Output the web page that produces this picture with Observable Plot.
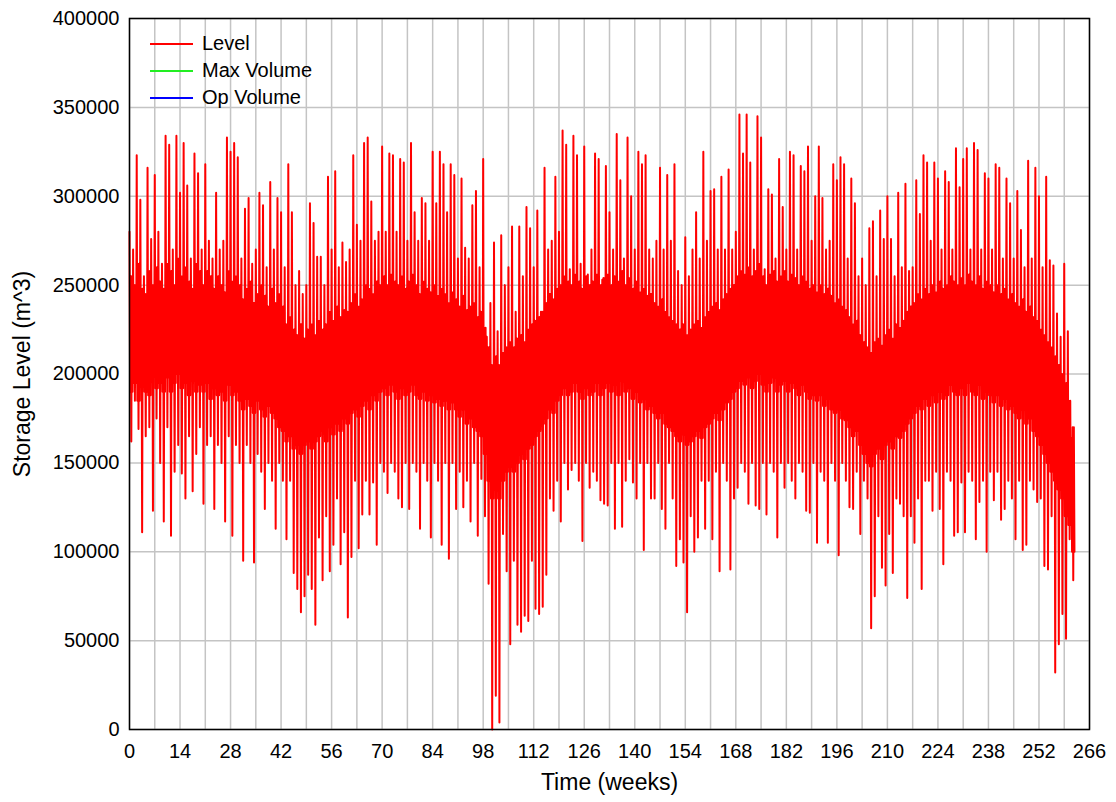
<!DOCTYPE html>
<html><head><meta charset="utf-8">
<script src="https://cdn.jsdelivr.net/npm/d3@7"></script>
<script src="https://cdn.jsdelivr.net/npm/@observablehq/plot@0.6"></script>
<style>
body{margin:0;background:#fff;font-family:"Liberation Sans",Arial,sans-serif;}
#wrap{position:relative;width:1116px;height:802px;}
#legend{position:absolute;left:150px;top:30px;font-size:20px;color:#000;}
.row{display:flex;align-items:center;height:27px;}
.sw{width:43px;height:2px;margin-right:9px;}
</style></head><body>
<div id="wrap"><div id="chart"></div><div id="legend"></div></div>
<script>
// Weekly upper spike values (thousand m^3), week 0..261
const peakLevel = [
280,270,323,298,255,316,276,312,280,262,
334,329,270,334,302,330,306,265,324,313,
270,318,275,265,302,270,275,333,325,330,
322,265,293,299,262,270,302,295,260,308,
270,299,291,260,318,291,250,258,245,250,
296,285,266,266,250,311,270,314,260,274,
263,270,323,284,275,330,333,297,275,280,
328,280,324,323,280,321,319,275,330,291,
275,299,296,275,325,296,325,318,291,318,
312,265,310,271,265,295,303,260,321,221,
240,274,224,278,250,260,283,235,283,255,
294,282,260,292,235,316,270,275,311,280,
337,329,259,334,323,262,328,256,270,324,
321,253,317,291,270,335,309,265,333,300,
270,325,318,323,270,265,275,316,270,312,
275,318,258,250,277,255,270,291,265,325,
275,303,304,270,311,270,315,270,280,346,
324,346,319,270,345,333,259,304,301,265,
321,294,270,325,323,270,317,314,328,275,
300,328,299,270,275,318,309,322,318,265,
310,296,255,265,250,282,286,255,292,276,
300,276,255,302,260,307,258,260,309,290,
323,319,275,319,310,270,314,308,270,327,
305,321,327,270,330,326,270,313,310,270,
318,316,265,310,296,265,303,281,260,320,
265,316,300,260,311,264,261,234,221,262,
224,164];
// Weekly lower spike values (thousand m^3), week 0..261
const troughLevel = [
162,185,169,111,165,170,123,175,150,117,
170,109,145,160,144,130,165,134,155,170,
127,160,165,124,160,150,117,165,109,160,
150,95,160,150,94,155,145,124,150,140,
113,150,140,107,140,88,79,66,75,87,
79,59,108,84,120,89,104,130,93,111,
63,97,140,102,121,140,121,139,104,150,
145,133,150,145,130,125,150,124,150,145,
113,150,140,108,150,140,104,150,96,150,
124,145,125,140,117,150,109,141,120,82,
0,19,4,110,89,48,95,59,55,64,
61,95,68,65,69,87,130,123,140,117,
150,135,146,150,140,106,150,136,145,140,
129,127,126,150,113,150,114,140,152,139,
130,150,101,150,130,130,150,124,113,150,
130,92,107,94,66,120,100,108,140,113,
140,107,145,89,150,140,90,130,136,150,
145,127,150,126,124,150,121,150,145,108,
150,136,150,140,130,150,145,123,122,150,
105,145,140,105,150,140,98,150,140,125,
124,145,110,140,130,57,75,120,91,81,
110,88,130,127,120,74,120,105,130,79,
140,140,123,145,124,93,145,140,109,111,
139,111,145,140,107,128,140,100,145,129,
145,118,124,140,130,107,140,101,104,140,
135,128,130,92,90,120,32,48,65,51,
107,84];
// Weekly top of the dense core band (thousand m^3), week 0..261
const coreHigh = [
255,250,262,248,245,258,250,260,252,248,
262,258,250,265,255,260,252,248,262,258,
250,258,255,248,255,250,246,258,252,255,
250,242,248,252,240,245,250,244,238,248,
240,245,238,228,232,225,222,228,220,225,
228,222,230,225,228,235,230,238,232,236,
235,240,245,238,242,250,248,245,252,250,
255,250,256,252,250,255,248,252,256,250,
245,252,248,246,250,244,248,245,240,246,
242,238,244,236,238,240,232,235,226,215,
205,210,205,212,215,218,215,220,222,218,
225,228,230,232,235,240,245,242,248,250,
255,252,250,256,252,248,255,250,252,256,
250,254,256,250,255,252,258,250,254,248,
252,246,248,244,245,240,238,242,235,232,
230,228,225,228,222,225,228,230,226,232,
235,238,240,236,242,245,248,250,255,258,
256,260,255,258,262,255,250,256,258,252,
255,258,252,256,254,250,255,252,248,250,
246,250,245,248,244,240,242,238,236,232,
228,230,222,218,215,212,218,220,216,222,
225,220,228,226,230,235,238,240,245,242,
248,245,250,246,252,248,250,255,252,250,
254,250,256,252,250,255,248,252,250,246,
250,245,248,242,245,240,238,242,235,238,
232,230,225,222,218,215,210,205,200,195,
185,170];
// Weekly bottom of the dense core band (thousand m^3), week 0..261
const coreLow = [
190,195,185,198,190,188,200,192,195,190,
198,190,195,200,192,195,188,196,190,194,
190,195,186,192,188,190,185,194,188,190,
185,180,186,182,178,185,180,176,182,178,
175,170,168,162,165,158,160,155,160,162,
158,162,165,168,162,170,166,172,168,175,
172,178,180,176,182,185,180,188,185,190,
192,188,194,190,186,192,188,190,194,188,
186,190,185,188,184,186,182,185,180,184,
180,176,180,172,175,170,168,165,155,140,
130,135,130,140,145,148,145,150,155,152,
158,160,165,168,172,175,180,178,185,188,
192,188,190,195,190,186,192,188,190,195,
188,192,195,190,194,188,196,190,192,186,
190,184,186,180,182,178,175,178,172,170,
168,165,162,166,160,162,165,168,164,170,
172,175,178,174,180,184,186,190,192,196,
194,198,192,196,200,194,190,195,198,190,
194,196,190,195,192,188,194,190,186,188,
185,188,182,186,180,178,180,175,174,170,
165,168,160,155,150,148,155,158,152,160,
162,158,165,164,168,172,175,178,182,180,
186,182,188,184,190,186,188,194,190,188,
192,188,195,190,188,194,186,190,188,184,
188,182,186,180,182,178,175,180,172,175,
168,165,160,155,150,145,140,135,130,120,
115,100];

const xTicks = [0,14,28,42,56,70,84,98,112,126,140,154,168,182,196,210,224,238,252,266];
const gridWeeks = [0,7,14,21,28,35,42,49,56,63,70,77,84,91,98,105,112,119,126,133,140,147,154,161,168,175,182,189,196,203,210,217,224,231,238,245,252,259,266];
const yTicks = [0,50000,100000,150000,200000,250000,300000,350000,400000];
const seriesNames = ["Level","Max Volume","Op Volume"];
const seriesColors = ["#ff0000","#22ee22","#0000ff"];
const xTitle = "Time (weeks)";
const yTitle = "Storage Level (m^3)";

const rows = [];
peakLevel.forEach((p, w) => {
  const seq = [p, coreLow[w], coreHigh[w], troughLevel[w], coreHigh[w], coreLow[w]];
  seq.forEach((v, k) => rows.push({week: w + k / 6, level: v * 1000}));
});

const chart = Plot.plot({
  width: 1116, height: 802,
  marginLeft: 129, marginRight: 27, marginTop: 18, marginBottom: 73,
  style: {fontFamily: '"Liberation Sans", Arial, sans-serif', fontSize: "20px", background: "white", color: "#000"},
  x: {domain: [0, 266]},
  y: {domain: [0, 400000]},
  marks: [
    Plot.gridX(gridWeeks, {stroke: "#c4c4c4", strokeOpacity: 1, strokeWidth: 1.5}),
    Plot.gridY(yTicks, {stroke: "#c4c4c4", strokeOpacity: 1, strokeWidth: 1.5}),
    Plot.line(rows, {x: "week", y: "level", stroke: seriesColors[0], strokeWidth: 2}),
    Plot.frame({stroke: "#000", strokeWidth: 1.5}),
    Plot.axisX(xTicks, {tickSize: 0, tickPadding: 14, label: null, fontSize: 20, tickFormat: d3.format("d")}),
    Plot.axisY(yTicks, {tickSize: 0, tickPadding: 10, label: null, fontSize: 20, tickFormat: d3.format("d")}),
    Plot.text([xTitle], {text: d => d, frameAnchor: "bottom", lineAnchor: "middle", textAnchor: "middle", dy: 53, fontSize: 23}),
    Plot.text([yTitle], {text: d => d, frameAnchor: "left", lineAnchor: "middle", textAnchor: "middle", dx: -107, rotate: -90, fontSize: 23})
  ]
});
document.getElementById("chart").append(chart);

const legend = document.getElementById("legend");
seriesNames.forEach((name, i) => {
  const row = document.createElement("div");
  row.className = "row";
  const sw = document.createElement("div");
  sw.className = "sw";
  sw.style.background = seriesColors[i];
  const t = document.createElement("span");
  t.textContent = name;
  row.append(sw, t);
  legend.append(row);
});
</script>
</body></html>
